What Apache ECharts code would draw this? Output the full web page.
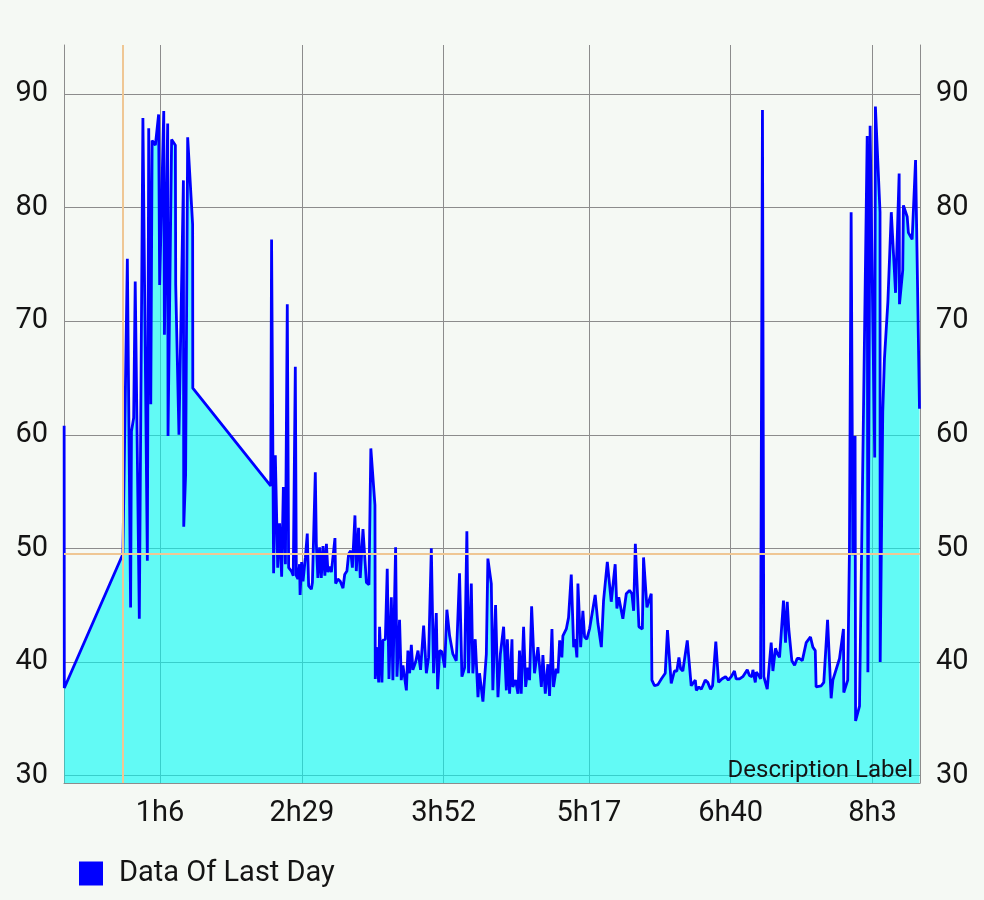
<!DOCTYPE html>
<html><head><meta charset="utf-8">
<script src="https://cdn.jsdelivr.net/npm/echarts@6/dist/echarts.min.js"></script>
<style>html,body{margin:0;padding:0;background:#f5f9f4;}#c{width:984px;height:900px;}</style>
</head><body><div id="c"></div>
<script>
// elapsed time in minutes
const minutes = [
  9.9, 10.0, 44.3, 46.9, 48.8, 49.3, 50.6, 51.5, 53.9, 56.0, 58.6, 59.4, 60.6, 61.4, 63.3, 65.2, 65.8, 68.2, 68.6, 70.5,
  70.7, 72.8, 75.0, 75.2, 77.1, 79.7, 79.9, 81.0, 82.2, 85.1, 85.2,
  130.8, 131.3, 132.5, 133.5, 134.9, 136.0, 137.2, 138.2, 139.4, 140.5, 141.3, 142.9, 144.0, 145.2, 145.8, 146.7, 147.7, 148.0, 148.9,
  149.7, 151.1, 152.2, 153.0, 154.6, 155.2, 156.9, 157.5, 158.4, 159.4, 160.4, 161.4, 162.5, 163.4, 164.3, 165.3, 166.3, 168.4, 168.8, 170.1,
  171.5, 173.1, 174.1, 175.4, 176.4, 177.6, 178.6, 180.1, 180.9, 182.2, 183.2, 184.8, 186.8, 188.3, 189.4, 191.8, 192.0, 192.6, 194.0, 194.5,
  195.9, 196.5, 197.9, 199.0, 200.0, 201.4, 202.3, 203.9, 204.7, 206.2, 207.2, 208.2, 210.2, 211.1, 212.1, 213.1, 214.0, 215.6, 217.0, 218.5,
  220.3, 221.9, 223.2, 224.8, 226.1, 227.7, 228.5, 229.7, 231.0, 232.6, 233.9, 235.5, 237.4, 239.4, 241.3, 242.7, 244.3, 245.6, 246.6, 248.2,
  249.1, 250.5, 252.1, 253.0, 255.0, 257.0, 257.9, 259.9, 260.8, 262.4, 263.8, 265.2, 267.1, 268.7, 269.3, 270.6, 272.0, 272.5, 274.1, 275.5,
  276.4, 277.4, 278.8, 280.0, 281.3, 282.3, 283.5, 285.2, 287.2, 289.2, 290.1, 291.5, 293.0, 294.0, 295.4, 296.3, 297.9, 298.9, 299.9, 301.2,
  301.8, 303.8, 305.1, 306.7, 308.1, 309.0, 310.0, 310.6, 312.2, 313.5, 314.5, 315.8, 317.4, 320.7, 322.3, 324.3, 325.6, 327.8, 330.1, 332.4,
  333.4, 334.5, 336.9, 338.9, 340.8, 342.2, 343.2, 344.2, 346.3, 348.3, 349.0, 351.0, 353.5, 353.9, 355.4, 357.4, 359.4, 361.7, 363.0, 365.2,
  367.1, 368.5, 369.7, 370.7, 372.0, 374.6, 376.9, 377.9, 379.3, 379.9, 381.4, 382.8, 383.7, 385.1, 386.6, 388.2, 389.4, 391.3, 392.9, 394.8,
  397.0, 398.6, 400.3, 402.2, 403.2, 405.2, 407.1, 409.7, 411.0, 412.4, 413.0, 414.4, 415.0, 416.5, 417.5, 418.6, 419.4, 421.4, 423.7, 424.7,
  426.2, 427.4, 428.6, 430.9, 432.1, 433.1, 434.0, 435.8, 437.4, 438.9, 440.3, 441.9, 444.2, 446.7, 448.1, 449.5, 450.0, 453.0, 454.5, 456.7,
  458.8, 459.8, 463.7, 466.0, 466.2, 468.5, 469.5, 470.5, 471.5, 472.8, 473.1, 475.4, 479.9, 480.3, 481.6, 484.3, 484.7, 487.4, 487.5, 489.0,
  490.0, 492.0, 494.0, 496.5, 498.6, 498.8, 500.7, 501.1, 503.3, 504.0, 506.2, 508.2, 510.5
];
const values = [
  60.8, 37.7, 49.5, 75.5, 44.8, 60.3, 61.5, 73.5, 43.8, 87.9, 48.9, 87.0, 62.7, 85.9, 85.5, 88.2, 73.2, 88.5, 68.8, 87.4,
  59.9, 86.0, 85.5, 73.2, 60.0, 82.4, 51.9, 56.5, 86.2, 78.5, 64.1,
  55.5, 77.2, 47.8, 58.2, 48.3, 52.2, 47.5, 55.4, 48.6, 71.5, 48.3, 48.0, 47.6, 66.0, 47.6, 47.3, 48.6, 45.9, 48.8,
  47.1, 49.2, 51.3, 46.7, 46.4, 47.0, 56.7, 50.4, 47.4, 50.1, 47.4, 50.2, 47.6, 50.4, 47.9, 48.4, 47.9, 50.9, 46.9, 47.3,
  47.1, 46.5, 47.7, 48.0, 49.5, 49.8, 48.3, 52.9, 48.0, 51.8, 47.4, 51.7, 47.0, 46.8, 58.8, 53.8, 38.5, 41.3, 38.2, 43.1,
  38.2, 41.9, 42.0, 48.2, 38.5, 45.7, 38.4, 50.1, 38.7, 43.7, 38.4, 39.7, 37.5, 41.0, 39.0, 41.5, 39.3, 40.0, 41.0, 39.3,
  43.2, 39.0, 40.4, 50.0, 39.0, 44.3, 37.6, 41.0, 40.9, 39.5, 44.6, 42.3, 40.7, 40.1, 47.8, 38.7, 39.5, 51.5, 39.0, 46.9,
  39.0, 42.0, 36.9, 39.0, 36.5, 40.7, 49.1, 46.9, 37.5, 45.0, 36.9, 40.7, 43.1, 37.5, 42.0, 37.2, 42.0, 37.8, 38.4, 37.2,
  41.0, 37.2, 43.1, 37.8, 39.5, 38.4, 44.9, 39.0, 41.3, 37.8, 40.6, 37.2, 39.8, 37.0, 42.9, 37.8, 39.4, 39.0, 41.9, 40.4,
  42.3, 42.9, 43.9, 47.7, 41.3, 42.0, 40.4, 46.9, 41.3, 44.5, 42.2, 42.0, 42.9, 45.9, 43.4, 41.3, 45.4, 48.8, 45.3, 48.6,
  44.7, 45.7, 43.8, 46.0, 46.3, 46.0, 44.5, 50.4, 43.1, 42.9, 49.2, 44.8, 46.0, 38.4, 37.9, 38.0, 38.5, 39.0, 42.8, 38.1,
  39.2, 39.2, 40.4, 39.4, 39.2, 41.9, 37.9, 37.8, 38.4, 37.5, 37.8, 37.6, 37.9, 38.4, 38.2, 37.6, 37.9, 41.8, 38.2, 38.5,
  38.7, 38.4, 38.7, 39.2, 38.5, 38.5, 38.7, 39.3, 38.8, 38.7, 39.3, 38.2, 39.1, 38.8, 38.5, 88.6, 38.7, 37.6, 41.7, 39.2,
  41.2, 40.7, 40.4, 45.4, 41.7, 45.3, 42.9, 40.1, 39.7, 40.3, 40.3, 40.1, 41.7, 42.2, 41.3, 41.0, 37.8, 37.9, 38.2, 43.7,
  36.8, 38.4, 40.3, 42.9, 37.3, 38.4, 49.7, 79.6, 49.4, 59.9, 34.8, 36.1, 86.3, 39.1, 87.2, 58.0, 88.9, 79.6, 40.0, 62.0,
  66.7, 71.7, 79.6, 72.5, 83.0, 71.5, 74.5, 80.2, 79.2, 77.8, 77.2, 84.2, 62.3
];
const xTickMinutes = [66, 149, 232, 317, 400, 483];
const xTickLabels = ['1h6', '2h29', '3h52', '5h17', '6h40', '8h3'];
const yTicks = [30, 40, 50, 60, 70, 80, 90];
const xRange = [9.82, 510.8];
const yRange = [29.34, 94.32];
const seriesName = 'Data Of Last Day';
const descriptionText = 'Description Label';
const highlightIndex = 2;

const FONT = 'Roboto, "Noto Sans", sans-serif';
const TXT = '#141414';
const GRID = '#8c8c8c';

const chart = echarts.init(document.getElementById('c'), null, {renderer: 'canvas'});
const yAxisCommon = {
  type: 'value', min: yRange[0], max: yRange[1],
  axisLine: {show: true, lineStyle: {color: GRID, width: 1}},
  axisTick: {show: false, customValues: yTicks},
  axisLabel: {customValues: yTicks, fontSize: 29, fontFamily: FONT, color: TXT, margin: 16}
};
chart.setOption({
  animation: false,
  backgroundColor: '#f5f9f4',
  grid: {left: 64, right: 64, top: 45, bottom: 117, containLabel: false},
  xAxis: {
    type: 'value', min: xRange[0], max: xRange[1],
    axisLine: {show: true, onZero: false, lineStyle: {color: GRID, width: 1}},
    axisTick: {show: false, customValues: xTickMinutes},
    axisLabel: {
      customValues: xTickMinutes, fontSize: 29, fontFamily: FONT, color: TXT, margin: 16,
      formatter: v => { const i = xTickMinutes.findIndex(t => Math.abs(t - v) < 0.01); return i >= 0 ? xTickLabels[i] : ''; }
    },
    splitLine: {show: true, lineStyle: {color: GRID, width: 1}}
  },
  yAxis: [
    Object.assign({}, yAxisCommon, {position: 'left', splitLine: {show: true, lineStyle: {color: GRID, width: 1}}}),
    Object.assign({}, yAxisCommon, {position: 'right', splitLine: {show: false}})
  ],
  legend: {
    data: [seriesName], left: 79, top: 859, padding: 0, icon: 'rect', itemWidth: 24, itemHeight: 24,
    textStyle: {fontSize: 29, fontFamily: FONT, color: TXT, padding: [0, 0, 0, 11]}
  },
  graphic: [{
    type: 'text', right: 71, top: 759, z: 100,
    style: {text: descriptionText, fontSize: 24, fontFamily: FONT, fill: TXT}
  }],
  series: [{
    name: seriesName, type: 'line', showSymbol: false, symbol: 'none',
    data: minutes.map((m, i) => [m, values[i]]),
    lineStyle: {color: '#0000ff', width: 2.8},
    itemStyle: {color: '#0000ff'},
    areaStyle: {color: 'rgba(0,250,245,0.6)', opacity: 1, origin: 'start'},
    markLine: {
      silent: true, symbol: ['none', 'none'], label: {show: false},
      lineStyle: {color: '#efc794', width: 2, type: 'solid'},
      data: [{xAxis: minutes[highlightIndex]}, {yAxis: values[highlightIndex]}]
    }
  }]
});
</script></body></html>
